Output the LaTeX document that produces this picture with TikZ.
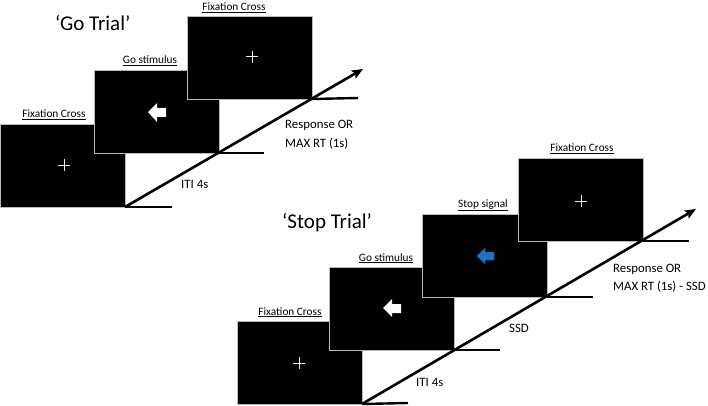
\documentclass[tikz,border=0pt]{standalone}
\usepackage{fontspec}
\setmainfont{Carlito}
\usetikzlibrary{arrows.meta}
\begin{document}
\begin{tikzpicture}[x=1pt,y=-1pt,
  screen/.style={draw=gray!55,line width=0.6pt,fill=black,minimum width=125pt,minimum height=83pt,anchor=north west,inner sep=0pt,outer sep=0pt},
  lbl/.style={font=\fontsize{11.3}{13}\selectfont,inner sep=0pt,anchor=base},
  note/.style={font=\fontsize{12.8}{15}\selectfont,inner sep=0pt,anchor=base west},
  title/.style={font=\fontsize{21}{24}\selectfont,inner sep=0pt,anchor=base west},
  axis/.style={line width=2.6pt,-{Stealth[length=11pt,width=9pt,inset=2pt]}},
  tick/.style={line width=2.4pt},
  crossmark/.style={gray!12,line width=1pt},
  whitearrow/.style={fill=white,draw=none},
  bluearrow/.style={fill=stopblue,draw=stopblue!70!black,line width=0.5pt}]
\definecolor{stopblue}{HTML}{2272C8}
\useasboundingbox (0,0) rectangle (708,406);
% ---------- Go trial ----------
\node[title] (gotitle) at (55,31) {`Go Trial'};
\node[screen] (g1) at (0,124) {};
\node[screen] (g2) at (94,70) {};
\node[screen] (g3) at (187,16) {};
\node[lbl] (g1l) at (54,118) {\underline{Fixation Cross}};
\node[lbl] (g2l) at (150,64) {\underline{Go stimulus}};
\node[lbl] (g3l) at (234,11) {\underline{Fixation Cross}};
\coordinate (gEnd) at (363,69);
\draw[axis] (g1.south east) -- (gEnd);
\coordinate (gt1) at (172,207);
\coordinate (gt2) at (264,153);
\coordinate (gt3) at (358,98);
\draw[tick] (g1.south east) -- (gt1);
\draw[tick] (g2.south east) -- (gt2);
\draw[tick] (g3.south east) -- (gt3);
\node[note] (gITI) at (181,188) {ITI 4s};
\node[note] (gresp1) at (285,129) {Response OR};
\node[note] (gresp2) at (285,148) {MAX RT (1s)};
% symbols
\draw[crossmark] (58,165) -- (70,165) (64,159) -- (64,171);
\draw[crossmark] (246,57) -- (258,57) (252,51) -- (252,63);
\fill[whitearrow] (148,112) -- (157,103) -- (157,108) -- (166,108) -- (166,117) -- (157,117) -- (157,122) -- cycle;
% ---------- Stop trial ----------
\node[title] (stoptitle) at (282,228) {`Stop Trial'};
\node[screen] (s1) at (237,321) {};
\node[screen] (s2) at (329,267) {};
\node[screen] (s3) at (422,214) {};
\node[screen] (s4) at (518,158) {};
\node[lbl] (s1l) at (290,315) {\underline{Fixation Cross}};
\node[lbl] (s2l) at (386,261) {\underline{Go stimulus}};
\node[lbl] (s3l) at (483,207) {\underline{Stop signal}};
\node[lbl] (s4l) at (582,152) {\underline{Fixation Cross}};
\coordinate (sEnd) at (696,209);
\draw[axis] (s1.south east) -- (sEnd);
\coordinate (st1) at (408,403);
\coordinate (st2) at (500,350);
\coordinate (st3) at (593,297);
\coordinate (st4) at (689,241);
\draw[tick] (s1.south east) -- (st1);
\draw[tick] (s2.south east) -- (st2);
\draw[tick] (s3.south east) -- (st3);
\draw[tick] (s4.south east) -- (st4);
\node[note] (sITI) at (416,386) {ITI 4s};
\node[note] (sSSD) at (509,332) {SSD};
\node[note] (sresp1) at (613,272) {Response OR};
\node[note] (sresp2) at (613,290) {MAX RT (1s) - SSD};
% symbols
\draw[crossmark] (293,363) -- (305,363) (299,357) -- (299,369);
\draw[crossmark] (575,201) -- (587,201) (581,195) -- (581,207);
\fill[whitearrow] (383,308) -- (392,299) -- (392,304) -- (401,304) -- (401,313) -- (392,313) -- (392,317) -- cycle;
\filldraw[bluearrow] (477,256) -- (485,248) -- (485,252) -- (494,252) -- (494,260) -- (485,260) -- (485,264) -- cycle;
\end{tikzpicture}
\end{document}
